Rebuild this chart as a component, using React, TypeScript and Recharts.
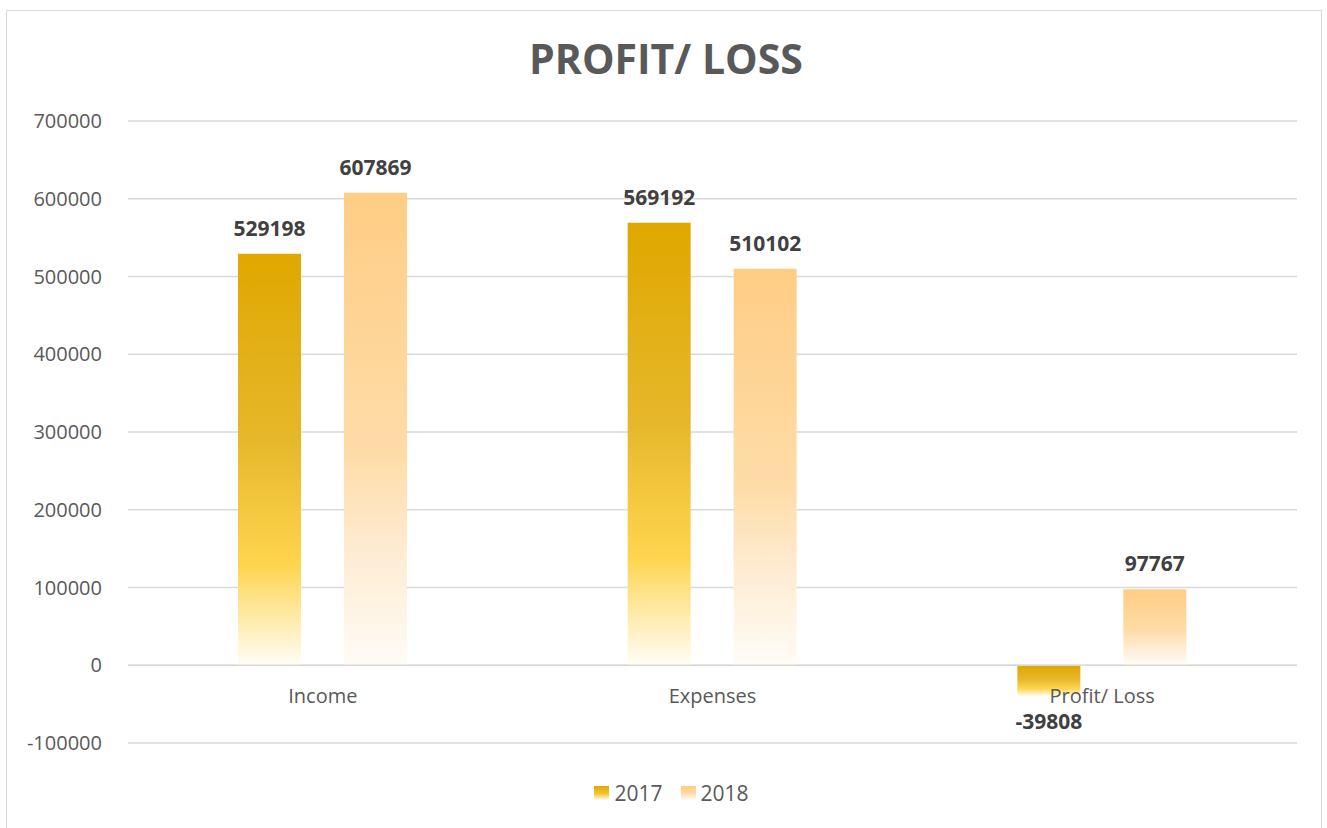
import React from "react";
import {
  BarChart,
  Bar,
  XAxis,
  YAxis,
  CartesianGrid,
  Legend,
  LabelList,
  ReferenceLine,
} from "recharts";

// categories + yearly values
const categories = ["Income", "Expenses", "Profit/ Loss"];
const values2017 = [529198, 569192, -39808];
const values2018 = [607869, 510102, 97767];
const yTicks = [-100000, 0, 100000, 200000, 300000, 400000, 500000, 600000, 700000];

const data = categories.map((name, i) => ({
  name,
  y2017: values2017[i],
  y2018: values2018[i],
}));

const FONT = "'Open Sans', sans-serif";
const GREY = "#595959";

const CategoryTick = (props: any) => {
  const { x, y, payload } = props;
  // category axis crosses at zero in the original, so pull labels up to it
  return (
    <text
      x={x}
      y={y}
      dy={-56}
      textAnchor="middle"
      dominantBaseline="central"
      fill={GREY}
      fontSize={20}
      fontFamily={FONT}
    >
      {payload.value}
    </text>
  );
};

const LegendBox = () => {
  const items = [
    { label: "2017", bg: "linear-gradient(#DFA800, #F0C53A 55%, #FFE9A8 85%, #FFFFFF)" },
    { label: "2018", bg: "linear-gradient(#FFCC80, #FEDCA8 55%, #FFF1DE 85%, #FFFFFF)" },
  ];
  return (
    <div
      style={{
        height: 40,
        display: "flex",
        justifyContent: "center",
        alignItems: "center",
        paddingLeft: 46,
        fontFamily: FONT,
        fontSize: 21,
        color: GREY,
      }}
    >
      {items.map((it, i) => (
        <div
          key={it.label}
          style={{ display: "flex", alignItems: "center", marginLeft: i ? 18 : 0 }}
        >
          <span style={{ width: 15, height: 14, background: it.bg, marginRight: 5 }} />
          <span>{it.label}</span>
        </div>
      ))}
    </div>
  );
};

export default function App() {
  return (
    <div style={{ position: "absolute", left: 0, top: 0, width: 1327, height: 828, background: "#fff", overflow: "hidden" }}>
      <div
        style={{
          position: "absolute",
          left: 6,
          top: 10,
          width: 1314,
          height: 830,
          border: "1px solid #D9D9D9",
        }}
      />
      <div
        style={{
          position: "absolute",
          left: 0,
          top: 38,
          width: 1332,
          textAlign: "center",
          fontFamily: FONT,
          fontWeight: 700,
          fontSize: 41,
          lineHeight: "41px",
          color: GREY,
        }}
      >
        PROFIT/ LOSS
      </div>
      <div style={{ position: "absolute", left: 0, top: 0 }}>
        <BarChart
          width={1327}
          height={828}
          data={data}
          margin={{ top: 121, right: 30, left: 0, bottom: 15 }}
          barSize={63}
          barGap={43}
        >
          <defs>
            <linearGradient id="grad2017" x1="0" y1="0" x2="0" y2="1">
              <stop offset="0" stopColor="#DFA800" />
              <stop offset="0.45" stopColor="#E6B72A" />
              <stop offset="0.76" stopColor="#FFD54F" />
              <stop offset="0.85" stopColor="#FFE592" />
              <stop offset="1" stopColor="#FFFDF5" />
            </linearGradient>
            <linearGradient id="grad2018" x1="0" y1="0" x2="0" y2="1">
              <stop offset="0" stopColor="#FFCD84" />
              <stop offset="0.55" stopColor="#FEDCA8" />
              <stop offset="0.75" stopColor="#FEEBD0" />
              <stop offset="1" stopColor="#FFFCF7" />
            </linearGradient>
          </defs>
          <CartesianGrid vertical={false} stroke="#D9D9D9" strokeWidth={1.3} />
          <YAxis
            width={128}
            domain={[-100000, 700000]}
            ticks={yTicks}
            interval={0}
            axisLine={false}
            tickLine={false}
            tickSize={6}
            tickMargin={20}
            tick={{ fill: GREY, fontSize: 20, fontFamily: FONT }}
          />
          <ReferenceLine y={0} stroke="#D9D9D9" strokeWidth={1.5} />
          <Bar dataKey="y2017" name="2017" fill="url(#grad2017)" isAnimationActive={false}>
            <LabelList
              dataKey="y2017"
              position="top"
              offset={18}
              fill="#404040"
              fontSize={21}
              fontWeight={700}
              fontFamily={FONT}
            />
          </Bar>
          <Bar dataKey="y2018" name="2018" fill="url(#grad2018)" isAnimationActive={false}>
            <LabelList
              dataKey="y2018"
              position="top"
              offset={18}
              fill="#404040"
              fontSize={21}
              fontWeight={700}
              fontFamily={FONT}
            />
          </Bar>
          <XAxis
            dataKey="name"
            height={30}
            axisLine={false}
            tickLine={false}
            interval={0}
            tick={<CategoryTick />}
          />
          <Legend
            verticalAlign="bottom"
            height={40}
            wrapperStyle={{ height: 40 }}
            content={<LegendBox />}
          />
        </BarChart>
      </div>
    </div>
  );
}
